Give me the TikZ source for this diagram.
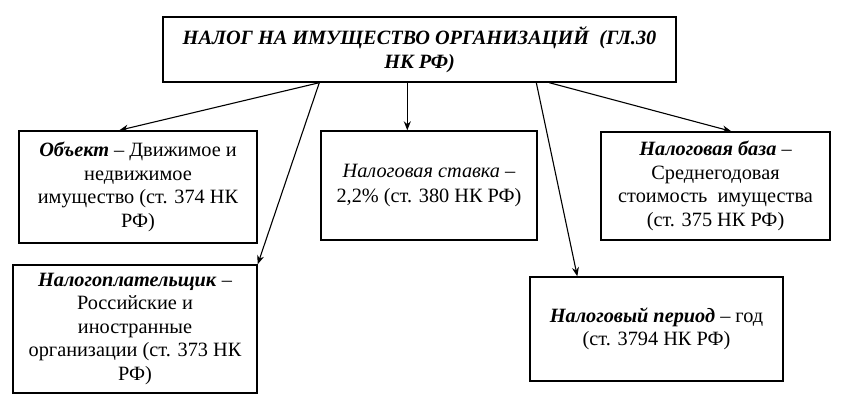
\documentclass[tikz,border=0pt]{standalone}
\usepackage{fontspec}
\setmainfont{Liberation Serif}
\usetikzlibrary{arrows.meta}
\begin{document}
\begin{tikzpicture}[x=1pt,y=-1pt,
  box/.style={draw,line width=1.4pt,align=center,inner sep=0pt,
    font=\fontsize{20.3}{23.5}\selectfont},
  conn/.style={line width=1.1pt,-{Stealth[length=9pt,width=7pt]}}]
\useasboundingbox (0,0) rectangle (842,414);
\node[box,minimum width=513pt,minimum height=65pt] (top) at (419.5,49.5)
  {\textbf{\textit{НАЛОГ НА ИМУЩЕСТВО ОРГАНИЗАЦИЙ\ \ (ГЛ.30}}\\\textbf{\textit{НК РФ)}}};
\node[box,minimum width=238pt,minimum height=112pt] (obj) at (138,187)
  {\textbf{\textit{Объект}} – Движимое и\\недвижимое\\имущество (ст. 374 НК\\РФ)};
\node[box,minimum width=216pt,minimum height=109pt] (rate) at (429,185.5)
  {\textit{Налоговая ставка} –\\[1.5pt]2,2\% (ст. 380 НК РФ)};
\node[box,minimum width=229pt,minimum height=108pt] (base) at (715.5,186)
  {\textbf{\textit{Налоговая база}} –\\Среднегодовая\\стоимость\ \ имущества\\(ст. 375 НК РФ)};
\node[box,minimum width=244pt,minimum height=128pt] (payer) at (135,329)
  {\textbf{\textit{Налогоплательщик}} –\\Российские и\\иностранные\\организации (ст. 373 НК\\РФ)};
\node[box,minimum width=253pt,minimum height=104pt] (period) at (656.5,329)
  {\textbf{\textit{Налоговый период}} – год\\(ст. 3794 НК РФ)};
\draw[conn] ([xshift=157pt]top.south west) -- ([xshift=101pt]obj.north west);
\draw[conn] ([xshift=157pt]top.south west) -- (payer.north east);
\draw[conn] ([xshift=245pt]top.south west) -- ([xshift=87pt]rate.north west);
\draw[conn] ([xshift=374pt]top.south west) -- ([xshift=48pt]period.north west);
\draw[conn] ([xshift=387pt]top.south west) -- ([xshift=131pt]base.north west);
\end{tikzpicture}
\end{document}
